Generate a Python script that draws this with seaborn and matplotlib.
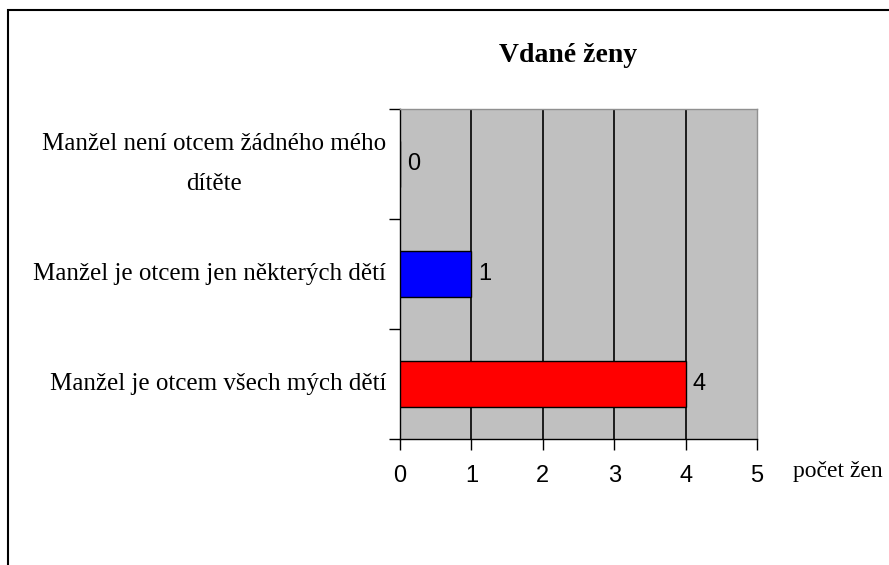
import matplotlib
matplotlib.use("Agg")
import matplotlib.pyplot as plt
import seaborn as sns
import pandas as pd
from matplotlib.patches import Rectangle

categories = ["Manžel není otcem žádného mého\ndítěte",
              "Manžel je otcem jen některých dětí",
              "Manžel je otcem všech mých dětí"]
values = [0, 1, 4]
bar_colors = ["#0000FF", "#0000FF", "#FF0000"]
xticks = [0, 1, 2, 3, 4, 5]
title = "Vdané ženy"
xlabel = "počet žen"

sns.set_style("white")
plt.rcParams['font.family'] = ['Liberation Serif', 'DejaVu Serif']
plt.rcParams['text.color'] = 'black'
plt.rcParams['xtick.color'] = 'black'
plt.rcParams['ytick.color'] = 'black'

df = pd.DataFrame({"cat": categories, "val": values})

fig = plt.figure(figsize=(8.89, 5.65), dpi=100)
ax = fig.add_axes([400/889, 1-439/565, 357/889, 330/565])
ax.set_facecolor("#C0C0C0")

sns.barplot(data=df, y="cat", x="val", hue="cat", palette=bar_colors,
            orient="h", width=0.41, edgecolor="black", linewidth=1,
            saturation=1, legend=False, ax=ax, zorder=3)

ax.set_xlim(0, 5)
ax.set_ylim(2.5, -0.5)
ax.set_xlabel("")
ax.set_ylabel("")
for s in ["left", "bottom"]:
    ax.spines[s].set_color("black")
    ax.spines[s].set_linewidth(1)
for s in ["top", "right"]:
    ax.spines[s].set_color("#909090")
    ax.spines[s].set_linewidth(1)

for x in xticks[1:-1]:
    ax.axvline(x, color="black", lw=1.2, zorder=1)

ax.set_xticks(xticks)
ax.set_xticklabels([str(t) for t in xticks], family="Liberation Sans", fontsize=17)
ax.tick_params(axis="x", length=8, width=1, color="black", bottom=True,
               direction="out", pad=11)

ax.set_yticks([0, 1, 2])
ax.set_yticklabels(categories, fontsize=18, multialignment="center",
                   linespacing=2.05, va="center")
ax.tick_params(axis="y", which="major", length=0, pad=10)
ax.set_yticks([-0.5, 0.5, 1.5, 2.5], minor=True)
ax.tick_params(axis="y", which="minor", length=8, width=1, color="black", left=True)

for i, v in enumerate(values):
    ax.text(v + 0.1, i, str(v), va="center", ha="left",
            family="Liberation Sans", fontsize=17, zorder=4)

fig.text(568/889, 1-55/565, title, ha="center", va="center",
         fontsize=20, fontweight="bold")
fig.text(793/889, 1-472/565, xlabel, ha="left", va="center", fontsize=17)

fig.patches.append(Rectangle((8/889, -0.1), 1.2, 1-10/565+0.1, transform=fig.transFigure,
                             fill=False, edgecolor="black", lw=1.5))

fig.savefig("out.png", dpi=100)
